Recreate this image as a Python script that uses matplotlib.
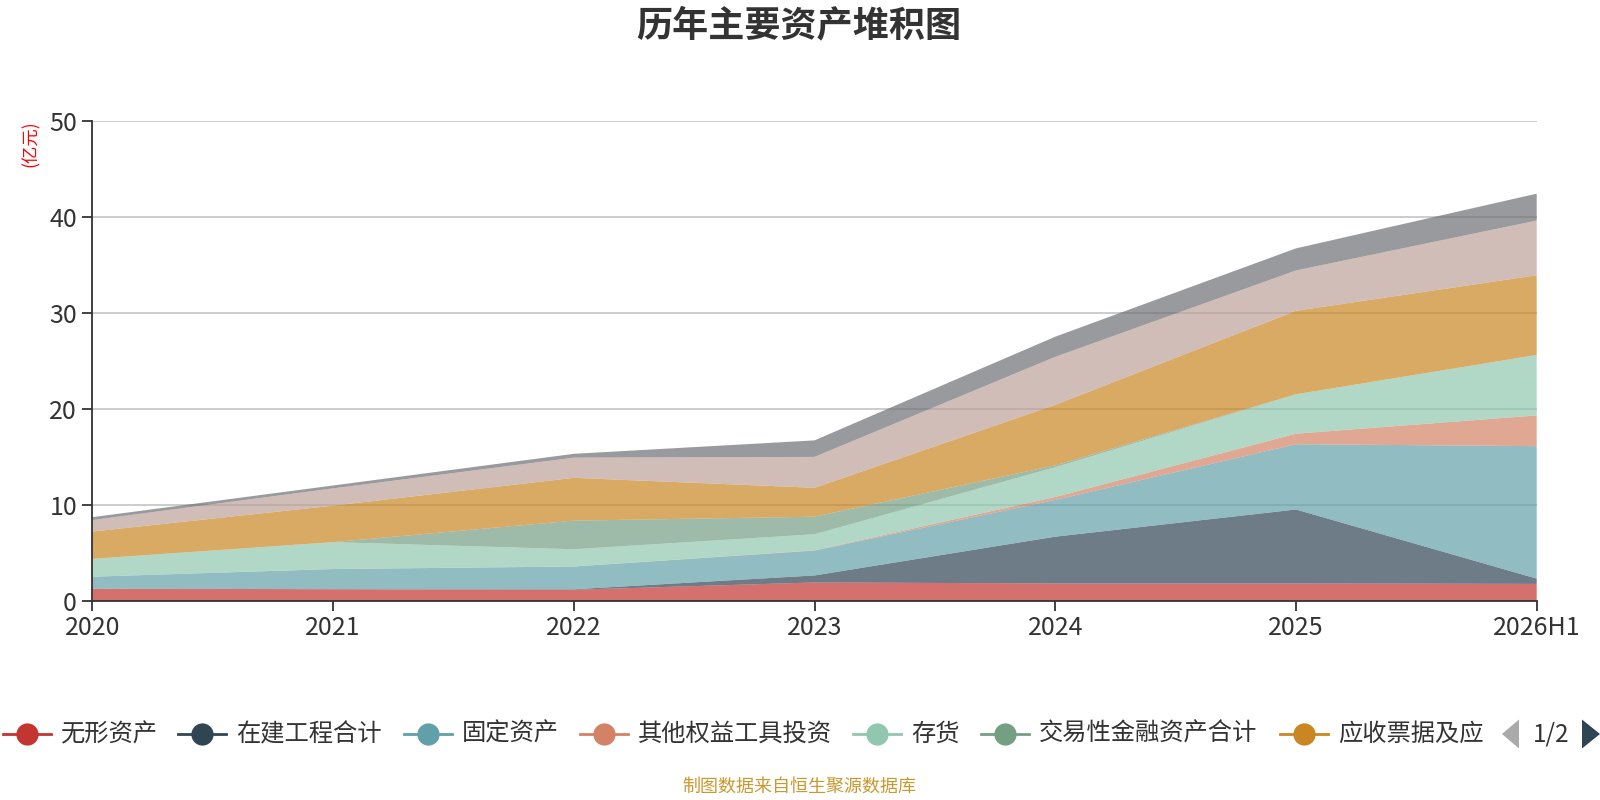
import matplotlib
matplotlib.use("Agg")
import matplotlib.pyplot as plt
from matplotlib.lines import Line2D
from matplotlib.patches import Polygon
import numpy as np

plt.rcParams['font.family'] = ['Noto Sans CJK SC', 'DejaVu Sans']

# ---------------- data ----------------
years = ["2020", "2021", "2022", "2023", "2024", "2025", "2026H1"]
series_names = ["无形资产", "在建工程合计", "固定资产", "其他权益工具投资", "存货",
                "交易性金融资产合计", "应收票据及应收账款", "货币资金", "其他资产"]
wuxing = [1.25, 1.20, 1.14, 1.90, 1.80, 1.80, 1.75]
zaijian = [0.0, 0.0, 0.05, 0.73, 4.87, 7.70, 0.55]
guding = [1.25, 2.10, 2.37, 2.59, 3.83, 6.80, 13.80]
qitaquanyi = [0.0, 0.0, 0.0, 0.03, 0.30, 1.10, 3.20]
cunhuo = [1.86, 2.80, 1.80, 1.67, 3.10, 4.10, 6.30]
jiaoyixing = [0.0, 0.0, 2.98, 1.83, 0.20, 0.0, 0.0]
yingshou = [2.84, 3.80, 4.46, 3.01, 6.30, 8.70, 8.30]
huobi = [1.20, 1.80, 2.10, 3.22, 5.00, 4.20, 5.70]
qita = [0.30, 0.30, 0.40, 1.72, 2.10, 2.30, 2.80]
yticks = [0, 10, 20, 30, 40, 50]

colors = ["#c23531", "#2f4554", "#61a0a8", "#d48265", "#91c7ae",
          "#749f83", "#ca8622", "#bda29a", "#6e7074"]

W, H = 1600, 800
fig = plt.figure(figsize=(16, 8), dpi=100)
ax = fig.add_axes([92.3 / W, 1 - 600.7 / H, (1536.7 - 92.3) / W, (600.7 - 120.7) / H])

x = np.arange(len(years))
data = [wuxing, zaijian, guding, qitaquanyi, cunhuo, jiaoyixing, yingshou, huobi, qita]
ax.stackplot(x, *data, colors=colors, alpha=0.7, linewidth=0, edgecolor='none', zorder=2)

ax.set_xlim(0, len(years) - 1)
ax.set_ylim(0, 50)
ax.set_xticks(x)
ax.set_xticklabels(years)
ax.set_yticks(yticks)
ax.set_yticklabels([str(v) for v in yticks])
ax.yaxis.grid(True, color='#c4c4c4', linewidth=1.2, zorder=0)
ax.set_axisbelow(True)
for s in ['top', 'right']:
    ax.spines[s].set_visible(False)
for s in ['left', 'bottom']:
    ax.spines[s].set_color('#333333')
    ax.spines[s].set_linewidth(1.3)
    ax.spines[s].set_zorder(5)
ax.tick_params(axis='both', colors='#333333', labelcolor='#333333', labelsize=18,
               length=7, width=1.3, direction='out')
ax.tick_params(axis='y', pad=4)
ax.tick_params(axis='x', pad=3)

# y-axis unit label
fig.text(31 / W, 1 - 144 / H, "(亿元)", rotation=90, color='#ff0000', fontsize=12.5,
         ha='center', va='center')

# title
fig.text(799 / W, 1 - 25.5 / H, "历年主要资产堆积图", fontsize=26, fontweight='bold',
         color='#333333', ha='center', va='center')

# legend (page 1 of 2)
leg_y = 1 - 734 / H
leg_labels = ["无形资产", "在建工程合计", "固定资产", "其他权益工具投资", "存货",
              "交易性金融资产合计", "应收票据及应"]
leg_cx = [26.5, 202, 428, 604, 877, 1005, 1304]
for lab, cx, col in zip(leg_labels, leg_cx, colors[:7]):
    fig.add_artist(Line2D([(cx - 24) / W, (cx + 24) / W], [leg_y, leg_y],
                          transform=fig.transFigure, color=col, linewidth=2))
    fig.add_artist(Line2D([cx / W], [leg_y], transform=fig.transFigure, marker='o',
                          markersize=16, color=col, markeredgewidth=0, linestyle='none'))
    fig.text((cx + 34) / W, leg_y, lab, fontsize=17.5, color='#333333',
             ha='left', va='center')

# pager
def tri(pts, col):
    fig.add_artist(Polygon([(px / W, 1 - py / H) for px, py in pts], closed=True,
                           transform=fig.transFigure, facecolor=col, edgecolor='none'))

tri([(1502, 734), (1519, 719.5), (1519, 748.5)], '#aaaaaa')
tri([(1600, 734), (1582, 719.5), (1582, 748.5)], '#2f4554')
fig.text(1551.5 / W, leg_y, "1/2", fontsize=17.5, color='#333333', ha='center', va='center')

# footer
fig.text(799 / W, 1 - 787 / H, "制图数据来自恒生聚源数据库", fontsize=13,
         color='#c9992f', ha='center', va='center')

fig.savefig("out.png", dpi=100)
